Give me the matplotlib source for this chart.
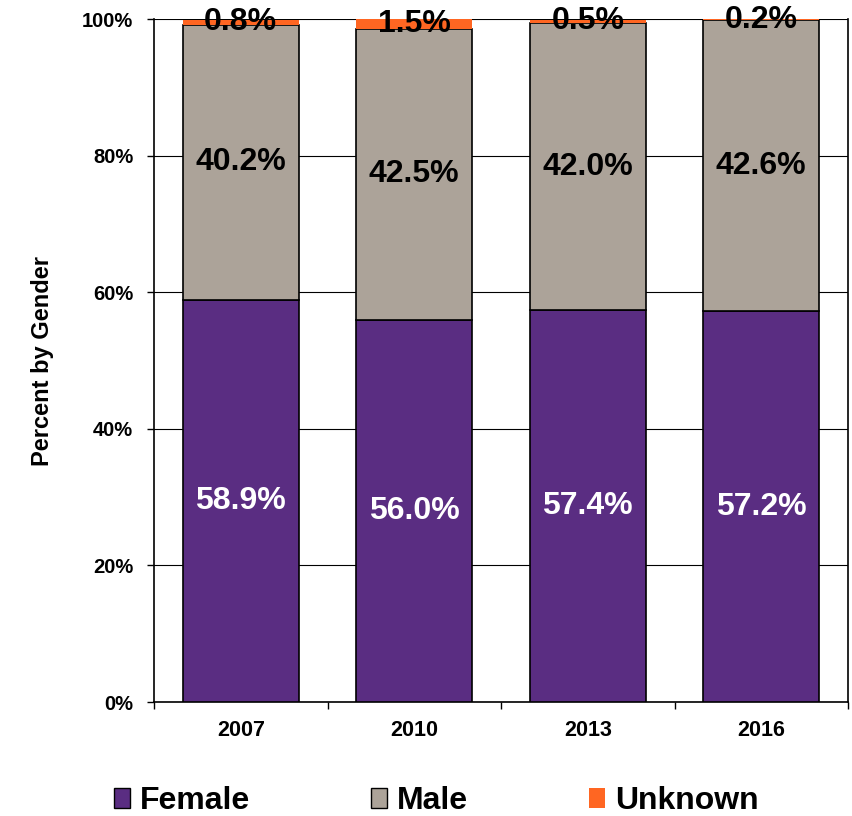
import numpy as np
import matplotlib.pyplot as plt
from matplotlib.patches import Patch

plt.rcParams['font.family'] = ['Liberation Sans', 'DejaVu Sans']

years = ["2007", "2010", "2013", "2016"]
female = [58.9, 56.0, 57.4, 57.2]
male = [40.2, 42.5, 42.0, 42.6]
unknown = [0.8, 1.5, 0.5, 0.2]

c_female = "#5A2D82"
c_male = "#ACA399"
c_unknown = "#FF6622"

fig = plt.figure(figsize=(8.52, 8.16), dpi=100)
ax = fig.add_axes([0.1808, 0.1397, 0.8145, 0.837])

x = np.arange(len(years))
w = 0.67
fem = np.array(female)
mal = np.array(male)
unk = np.array(unknown)

ax.bar(x, fem, w, color=c_female, edgecolor="black", linewidth=1.2, zorder=3)
ax.bar(x, mal, w, bottom=fem, color=c_male, edgecolor="black", linewidth=1.2, zorder=3)
ax.bar(x, unk, w, bottom=fem + mal, color=c_unknown, edgecolor="none", zorder=3)

# etiquetas centradas en cada segmento
for i in range(len(years)):
    ax.text(x[i], fem[i] / 2, f"{female[i]:.1f}%", ha="center", va="center",
            color="white", fontsize=23, fontweight="bold", zorder=5)
    ax.text(x[i], fem[i] + mal[i] / 2, f"{male[i]:.1f}%", ha="center", va="center",
            color="black", fontsize=23, fontweight="bold", zorder=5)
    ax.text(x[i], fem[i] + mal[i] + unk[i] / 2, f"{unknown[i]:.1f}%", ha="center", va="center",
            color="black", fontsize=23, fontweight="bold", zorder=5)

ax.set_xlim(-0.5, len(years) - 0.5)
ax.set_ylim(0, 100)
ax.set_yticks(np.arange(0, 101, 20))
ax.set_yticklabels([f"{v}%" for v in range(0, 101, 20)], fontsize=14.5, fontweight="bold")
ax.set_xticks(x)
ax.set_xticklabels(years, fontsize=15.5, fontweight="bold")
ax.tick_params(axis="x", which="major", length=0, pad=13)
ax.set_xticks(np.arange(-0.5, len(years), 1), minor=True)
ax.tick_params(axis="x", which="minor", length=5, direction="out", width=1)
ax.tick_params(axis="y", length=5, direction="out", width=1, pad=10)
ax.yaxis.grid(True, color="black", linewidth=0.8, zorder=0)
ax.spines["top"].set_visible(False)
for s in ["left", "right", "bottom"]:
    ax.spines[s].set_linewidth(1.2)

ax.set_ylabel("Percent by Gender", fontsize=17, fontweight="bold", labelpad=20)

handles = [Patch(facecolor=c_female, edgecolor="black"),
           Patch(facecolor=c_male, edgecolor="black"),
           Patch(facecolor=c_unknown, edgecolor="none")]
fig.legend(handles, ["Female", "Male", "Unknown"], loc="center", bbox_to_anchor=(0.512, 0.018),
           ncol=3, frameon=False, prop={"size": 23, "weight": "bold"},
           handlelength=0.5, handleheight=0.55, handletextpad=0.3, columnspacing=3.8)

fig.savefig("out.png", dpi=100)
